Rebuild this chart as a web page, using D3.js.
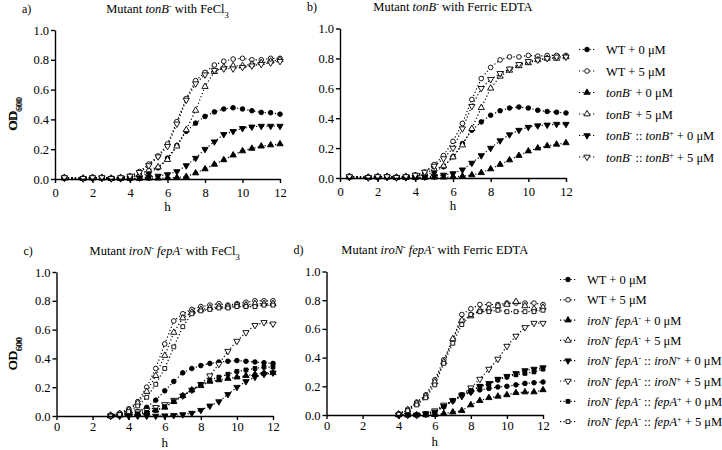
<!DOCTYPE html>
<html>
<head>
<meta charset="utf-8">
<script src="https://cdn.jsdelivr.net/npm/d3@7"></script>
<style>
  body { margin: 0; background: #fff; }
  svg text { font-family: "Liberation Serif", "Times New Roman", serif; font-weight: normal; fill: #000; }
  .axis path, .axis line { stroke: #000; stroke-width: 1.4; }
</style>
</head>
<body>
<svg width="722" height="450"></svg>
<script>
// tiempos de muestreo (h)
const timesAB = [0.5, 1.5, 2, 2.5, 3, 3.5, 4, 4.5, 5, 5.5, 6, 6.5, 7, 7.5, 8, 8.5, 9, 9.5, 10, 10.5, 11, 11.5, 12];
const timesC = [3, 3.5, 4, 4.5, 5, 5.5, 6, 6.5, 7, 7.5, 8, 8.5, 9, 9.5, 10, 10.5, 11, 11.5, 12];
const timesD = [4, 4.5, 5, 5.5, 6, 6.5, 7, 7.5, 8, 8.5, 9, 9.5, 10, 10.5, 11, 11.5, 12];

// a) tonB- con FeCl3
const aWT0 = [0.01, 0.005, 0.01, 0.01, 0.005, 0.005, 0.015, 0.02, 0.04, 0.075, 0.14, 0.225, 0.32, 0.375, 0.42, 0.45, 0.47, 0.478, 0.47, 0.458, 0.447, 0.445, 0.435];
const aWT5 = [0.01, 0.005, 0.01, 0.01, 0.005, 0.01, 0.02, 0.05, 0.1, 0.155, 0.235, 0.385, 0.54, 0.66, 0.715, 0.765, 0.79, 0.805, 0.81, 0.8, 0.8, 0.81, 0.81];
const aMut0 = [0.005, 0.002, 0.005, 0.005, 0.002, 0.002, 0.003, 0.003, 0.005, 0.005, 0.008, 0.01, 0.016, 0.04, 0.067, 0.098, 0.128, 0.16, 0.188, 0.205, 0.22, 0.228, 0.235];
const aMut5 = [0.01, 0.005, 0.01, 0.01, 0.005, 0.01, 0.015, 0.03, 0.06, 0.08, 0.13, 0.22, 0.33, 0.46, 0.62, 0.72, 0.75, 0.76, 0.76, 0.77, 0.78, 0.79, 0.8];
const aComp0 = [0.005, 0.002, 0.005, 0.005, 0.002, 0.003, 0.005, 0.008, 0.012, 0.02, 0.03, 0.05, 0.09, 0.14, 0.2, 0.25, 0.3, 0.32, 0.34, 0.35, 0.355, 0.355, 0.355];
const aComp5 = [0.01, 0.005, 0.01, 0.01, 0.005, 0.01, 0.02, 0.045, 0.09, 0.15, 0.22, 0.37, 0.53, 0.64, 0.7, 0.73, 0.74, 0.74, 0.75, 0.76, 0.77, 0.78, 0.79];

// b) tonB- con Ferric EDTA
const bWT0 = [0.01, 0.005, 0.01, 0.01, 0.005, 0.005, 0.015, 0.02, 0.04, 0.075, 0.142, 0.23, 0.32, 0.375, 0.42, 0.45, 0.468, 0.475, 0.468, 0.453, 0.445, 0.44, 0.435];
const bWT5 = [0.01, 0.005, 0.01, 0.01, 0.005, 0.01, 0.02, 0.04, 0.09, 0.15, 0.245, 0.365, 0.525, 0.665, 0.74, 0.79, 0.81, 0.81, 0.82, 0.815, 0.82, 0.82, 0.82];
const bMut0 = [0.005, 0.002, 0.005, 0.005, 0.002, 0.002, 0.003, 0.003, 0.005, 0.005, 0.008, 0.012, 0.02, 0.035, 0.06, 0.09, 0.12, 0.15, 0.18, 0.2, 0.215, 0.225, 0.235];
const bMut5 = [0.01, 0.005, 0.01, 0.01, 0.005, 0.01, 0.015, 0.03, 0.06, 0.08, 0.14, 0.22, 0.33, 0.47, 0.6, 0.68, 0.72, 0.75, 0.77, 0.79, 0.8, 0.8, 0.81];
const bComp0 = [0.005, 0.002, 0.005, 0.005, 0.002, 0.003, 0.005, 0.008, 0.012, 0.02, 0.03, 0.055, 0.1, 0.15, 0.2, 0.25, 0.29, 0.32, 0.34, 0.35, 0.355, 0.36, 0.36];
const bComp5 = [0.01, 0.005, 0.01, 0.01, 0.005, 0.01, 0.02, 0.04, 0.08, 0.13, 0.2, 0.33, 0.48, 0.6, 0.66, 0.7, 0.73, 0.76, 0.78, 0.79, 0.8, 0.81, 0.81];

// c) iroN- fepA- con FeCl3
const cWT0 = [0.005, 0.01, 0.015, 0.03, 0.06, 0.11, 0.175, 0.24, 0.3, 0.33, 0.35, 0.365, 0.375, 0.38, 0.385, 0.38, 0.375, 0.37, 0.365];
const cWT5 = [0.005, 0.02, 0.05, 0.1, 0.2, 0.33, 0.5, 0.66, 0.71, 0.74, 0.76, 0.77, 0.78, 0.77, 0.78, 0.79, 0.8, 0.8, 0.8];
const cMut0 = [0, 0.005, 0.01, 0.015, 0.025, 0.04, 0.06, 0.1, 0.14, 0.18, 0.21, 0.24, 0.25, 0.26, 0.27, 0.28, 0.29, 0.3, 0.3];
const cMut5 = [0.005, 0.015, 0.04, 0.09, 0.17, 0.28, 0.42, 0.58, 0.68, 0.72, 0.74, 0.75, 0.76, 0.76, 0.77, 0.77, 0.78, 0.78, 0.78];
const cIro0 = [0, 0, 0, 0, 0, 0, 0.002, 0.005, 0.01, 0.02, 0.04, 0.07, 0.1, 0.15, 0.2, 0.24, 0.27, 0.29, 0.3];
const cIro5 = [0, 0.01, 0.02, 0.03, 0.04, 0.06, 0.08, 0.11, 0.14, 0.18, 0.22, 0.28, 0.36, 0.45, 0.52, 0.58, 0.63, 0.65, 0.64];
const cFep0 = [0, 0.005, 0.01, 0.015, 0.025, 0.04, 0.065, 0.1, 0.14, 0.18, 0.22, 0.25, 0.27, 0.29, 0.31, 0.32, 0.33, 0.34, 0.34];
const cFep5 = [0, 0.01, 0.03, 0.07, 0.13, 0.22, 0.33, 0.48, 0.62, 0.71, 0.73, 0.74, 0.75, 0.75, 0.76, 0.76, 0.76, 0.77, 0.77];

// d) iroN- fepA- con Ferric EDTA
const dWT0 = [0, 0, 0, 0.005, 0.02, 0.06, 0.1, 0.14, 0.16, 0.175, 0.185, 0.195, 0.2, 0.21, 0.22, 0.225, 0.23];
const dWT5 = [0.01, 0.04, 0.09, 0.14, 0.245, 0.385, 0.52, 0.7, 0.74, 0.77, 0.77, 0.77, 0.78, 0.78, 0.78, 0.78, 0.77];
const dMut0 = [0, 0, 0, 0, 0.002, 0.01, 0.02, 0.03, 0.07, 0.1, 0.12, 0.13, 0.14, 0.155, 0.16, 0.16, 0.175];
const dMut5 = [0.005, 0.035, 0.08, 0.13, 0.23, 0.37, 0.53, 0.66, 0.69, 0.73, 0.74, 0.76, 0.77, 0.79, 0.76, 0.74, 0.75];
const dIro0 = [0, 0, 0, 0.005, 0.02, 0.06, 0.1, 0.13, 0.16, 0.2, 0.22, 0.25, 0.27, 0.29, 0.31, 0.32, 0.33];
const dIro5 = [0, 0, 0, 0.01, 0.03, 0.07, 0.1, 0.14, 0.19, 0.25, 0.32, 0.39, 0.48, 0.55, 0.61, 0.64, 0.64];
const dFep0 = [0, 0, 0, 0.01, 0.02, 0.06, 0.1, 0.14, 0.17, 0.2, 0.21, 0.245, 0.265, 0.28, 0.29, 0.3, 0.32];
const dFep5 = [0.005, 0.03, 0.07, 0.12, 0.21, 0.36, 0.5, 0.63, 0.7, 0.72, 0.72, 0.73, 0.72, 0.72, 0.72, 0.72, 0.73];

const xTicks = [0, 2, 4, 6, 8, 10, 12];
const yTicks = [0, 0.2, 0.4, 0.6, 0.8, 1.0];

// leyendas: segmentos [texto, estilo] (i = cursiva, sup = superíndice)
const legendTop = [
  [["WT + 0 μM"]],
  [["WT + 5 μM"]],
  [["tonB", "i"], ["-", "sup"], [" + 0 μM"]],
  [["tonB", "i"], ["-", "sup"], [" + 5 μM"]],
  [["tonB", "i"], ["-", "sup"], [" :: "], ["tonB", "i"], ["+", "sup"], [" + 0 μM"]],
  [["tonB", "i"], ["-", "sup"], [" :: "], ["tonB", "i"], ["+", "sup"], [" + 5 μM"]]
];
const dm = [["iroN", "i"], ["-", "sup"], [" "], ["fepA", "i"], ["-", "sup"]];
const legendBottom = [
  [["WT + 0 μM"]],
  [["WT + 5 μM"]],
  [...dm, [" + 0 μM"]],
  [...dm, [" + 5 μM"]],
  [...dm, [" :: "], ["iroN", "i"], ["+", "sup"], [" + 0 μM"]],
  [...dm, [" :: "], ["iroN", "i"], ["+", "sup"], [" + 5 μM"]],
  [...dm, [" :: "], ["fepA", "i"], ["+", "sup"], [" + 0 μM"]],
  [...dm, [" :: "], ["fepA", "i"], ["+", "sup"], [" + 5 μM"]]
];

// marcadores: [símbolo, relleno, rotación]
const markers = [
  [d3.symbolCircle, true, 0],
  [d3.symbolCircle, false, 0],
  [d3.symbolTriangle, true, 0],
  [d3.symbolTriangle, false, 0],
  [d3.symbolTriangle, true, 180],
  [d3.symbolTriangle, false, 180],
  [d3.symbolSquare, true, 0],
  [d3.symbolSquare, false, 0]
];

const panels = [
  { label: "a)", title: [["Mutant "], ["tonB", "i"], ["-", "sup"], [" with FeCl"], ["3", "sub"]],
    box: [55, 280, 179, 30], pad: 5, hOff: 32, times: timesAB, series: [aWT0, aWT5, aMut0, aMut5, aComp0, aComp5] },
  { label: "b)", title: [["Mutant "], ["tonB", "i"], ["-", "sup"], [" with Ferric EDTA"]],
    box: [340, 566, 178, 28.5], pad: 5, hOff: 32, times: timesAB, series: [bWT0, bWT5, bMut0, bMut5, bComp0, bComp5],
    legend: { items: legendTop, x: 587, y: 49.5, step: 21.5 } },
  { label: "c)", title: [["Mutant "], ["iroN", "i"], ["-", "sup"], [" "], ["fepA", "i"], ["-", "sup"], [" with FeCl"], ["3", "sub"]],
    box: [56.5, 273, 416, 272], pad: 2, hOff: 30.5, times: timesC, series: [cWT0, cWT5, cMut0, cMut5, cIro0, cIro5, cFep0, cFep5] },
  { label: "d)", title: [["Mutant "], ["iroN", "i"], ["-", "sup"], [" "], ["fepA", "i"], ["-", "sup"], [" with Ferric EDTA"]],
    box: [326.5, 543, 415, 271.5], pad: 2, hOff: 31, times: timesD, series: [dWT0, dWT5, dMut0, dMut5, dIro0, dIro5, dFep0, dFep5],
    legend: { items: legendBottom, x: 568, y: 279.5, step: 20.3 } }
];

const svg = d3.select("svg");
const FONT = "'Liberation Serif', 'Times New Roman', serif";

// Texto con cursivas, superíndices y subíndices
function richText(sel, segs, size) {
  segs.forEach(([t, st]) => {
    const ts = sel.append("tspan").text(t);
    if (st === "i") ts.style("font-style", "italic");
    if (st === "sup") ts.attr("font-size", size * 0.65).attr("baseline-shift", "super");
    if (st === "sub") ts.attr("font-size", size * 0.7).attr("baseline-shift", "sub");
  });
  return sel;
}

function drawMarker(g, m, x, y) {
  const [type, filled, rot] = m;
  const size = type === d3.symbolCircle ? 17 : (type === d3.symbolSquare ? 15 : 17);
  g.append("path")
    .attr("d", d3.symbol().type(type).size(size)())
    .attr("transform", `translate(${x},${y}) rotate(${rot})`)
    .attr("fill", filled ? "#000" : "#fff")
    .attr("stroke", "#000")
    .attr("stroke-width", 0.9);
}

panels.forEach(p => {
  const [x0, x1, y0, y1] = p.box;
  const x = d3.scaleLinear().domain([0, 12]).range([x0, x1]);
  const y = d3.scaleLinear().domain([0, 1]).range([y0, y1]);
  const g = svg.append("g");

  // curvas punteadas
  const line = d3.line().x(d => x(d[0])).y(d => y(d[1]));
  p.series.forEach(s => {
    const pts = p.times.map((t, k) => [t, s[k]]);
    g.append("path")
      .attr("d", line(pts))
      .attr("fill", "none")
      .attr("stroke", "#000")
      .attr("stroke-width", 1.2)
      .attr("stroke-dasharray", "1.2,2.3");
  });
  p.series.forEach((s, i) => {
    p.times.forEach((t, k) => drawMarker(g, markers[i], x(t), y(s[k])));
  });

  // ejes
  const gx = g.append("g").attr("class", "axis")
    .attr("transform", `translate(0,${y0})`)
    .call(d3.axisBottom(x).tickValues(xTicks).tickSize(4).tickPadding(p.pad).tickSizeOuter(0));
  const gy = g.append("g").attr("class", "axis")
    .attr("transform", `translate(${x0},0)`)
    .call(d3.axisLeft(y).tickValues(yTicks).tickFormat(d3.format(".1f")).tickSize(4).tickPadding(2).tickSizeOuter(0));
  [gx, gy].forEach(a => a.attr("font-family", FONT).attr("font-size", 12.5));

  // etiquetas de ejes
  g.append("text")
    .attr("x", (x0 + x1) / 2).attr("y", y0 + p.hOff)
    .attr("text-anchor", "middle").attr("font-size", 13).text("h");
  const cy = (y0 + y1) / 2 + 10;
  richText(g.append("text")
    .attr("transform", `translate(17,${cy}) rotate(-90)`)
    .attr("text-anchor", "middle").attr("font-size", 13), [["OD"], ["600", "sub"]], 13);

  // título y letra del panel
  const ty = y1 - 17.5;
  g.append("text").attr("x", x0 - 33).attr("y", ty).attr("font-size", 12).text(p.label);
  richText(g.append("text")
    .attr("x", (x0 + x1) / 2).attr("y", ty)
    .attr("text-anchor", "middle").attr("font-size", 12.5), p.title, 12.5);

  // leyenda
  if (p.legend) {
    const L = p.legend;
    L.items.forEach((segs, i) => {
      const ly = L.y + i * L.step;
      g.append("line")
        .attr("x1", L.x - 8).attr("x2", L.x + 8).attr("y1", ly).attr("y2", ly)
        .attr("stroke", "#000").attr("stroke-width", 1.2).attr("stroke-dasharray", "1.2,2.3");
      drawMarker(g, markers[i], L.x, ly);
      richText(g.append("text")
        .attr("x", L.x + 19).attr("y", ly + 4.5).attr("font-size", 12.5), segs, 12.5);
    });
  }
});
</script>
</body>
</html>
